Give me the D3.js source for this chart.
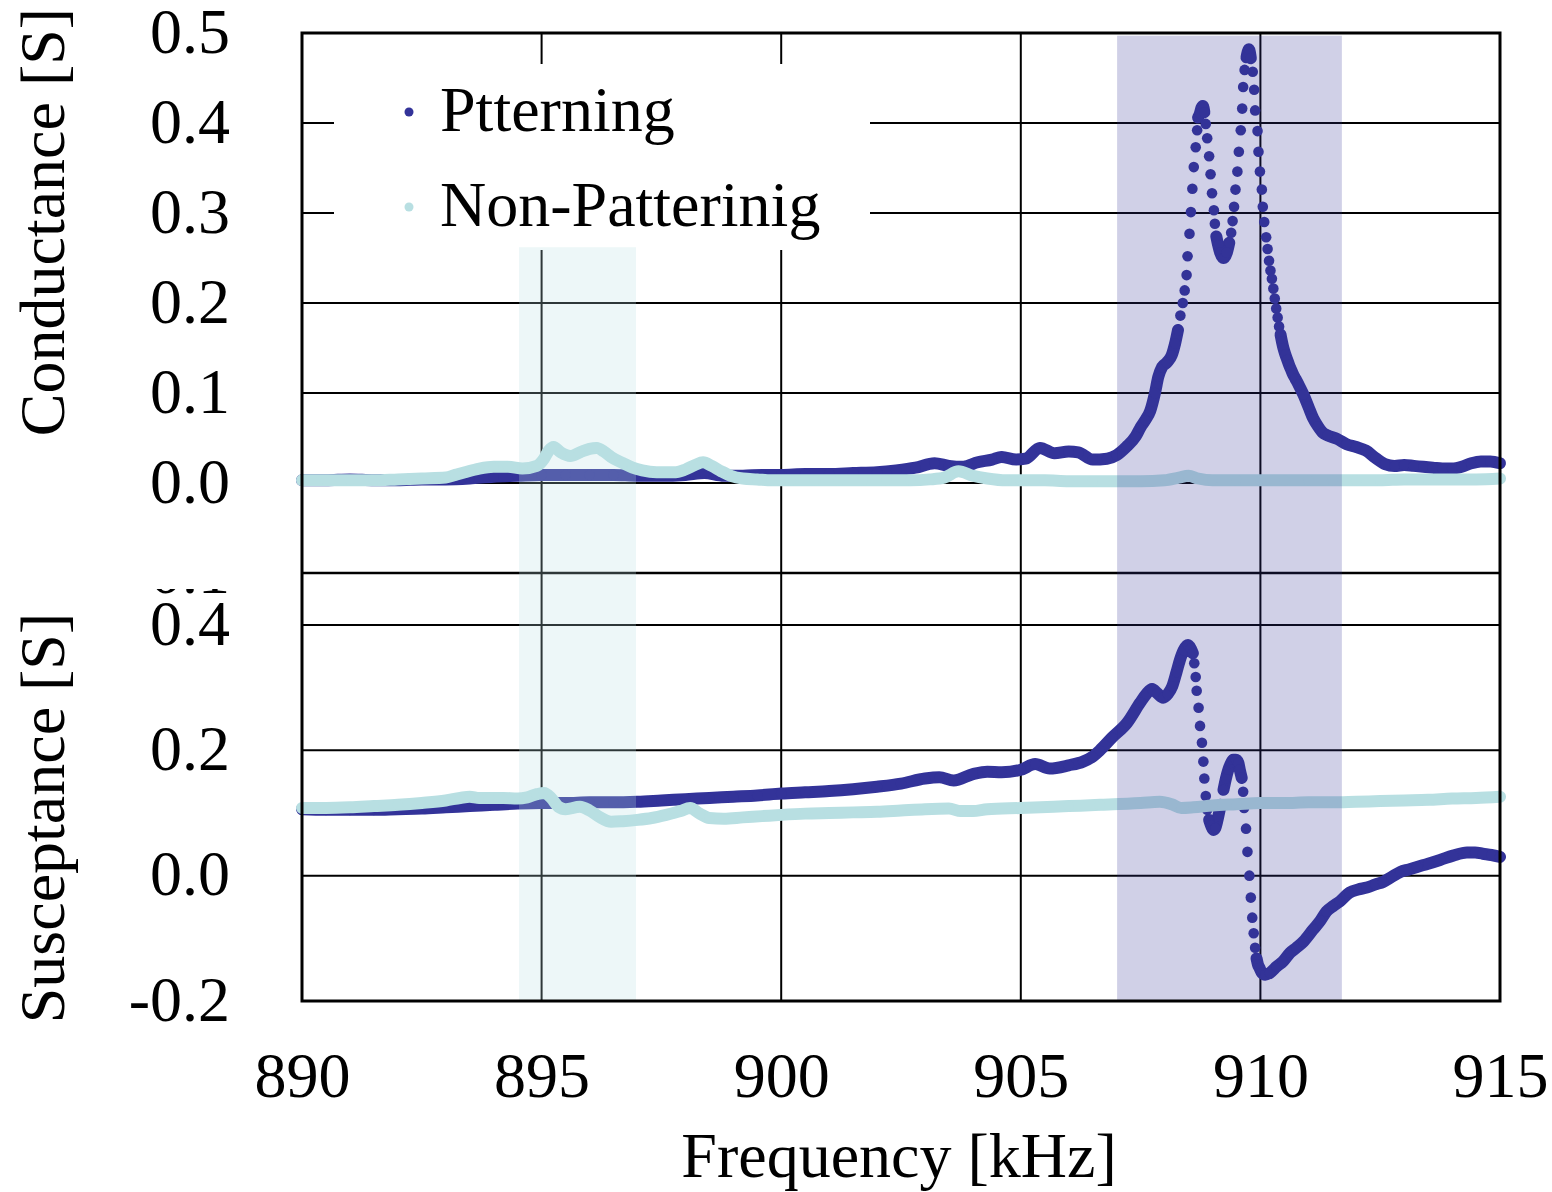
<!DOCTYPE html>
<html>
<head>
<meta charset="utf-8">
<script src="https://cdn.jsdelivr.net/npm/d3@7"></script>
<style>
  body { margin: 0; background: #fff; }
  text { font-family: "Liberation Serif", "Times New Roman", serif; fill: #000; }
</style>
</head>
<body>
<div id="main"></div>
<script>
// frequency [kHz], value [S]
const condPatterning = [
  [890.0, 0.003], [890.5, 0.003], [891.0, 0.004], [891.5, 0.003], [892.0, 0.003], [892.5, 0.004],
  [893.0, 0.004], [893.5, 0.005], [894.0, 0.007], [894.5, 0.008], [895.0, 0.009], [895.5, 0.009],
  [896.0, 0.009], [896.5, 0.009], [897.0, 0.008], [897.5, 0.008], [898.0, 0.009], [898.4, 0.011],
  [898.8, 0.008], [899.2, 0.008], [899.6, 0.009], [900.0, 0.009], [900.5, 0.010], [901.0, 0.010],
  [901.5, 0.011], [902.0, 0.012], [902.4, 0.014], [902.8, 0.017], [903.2, 0.022], [903.5, 0.019],
  [903.8, 0.018], [904.1, 0.023], [904.4, 0.026], [904.6, 0.029], [904.9, 0.026], [905.1, 0.027],
  [905.4, 0.039], [905.7, 0.033], [906.0, 0.035], [906.2, 0.034], [906.5, 0.026], [906.8, 0.027],
  [907.0, 0.031], [907.2, 0.040], [907.4, 0.052], [907.5, 0.062], [907.6, 0.070], [907.7, 0.080],
  [907.8, 0.100], [907.87, 0.118], [907.95, 0.129], [908.05, 0.134], [908.15, 0.142], [908.22, 0.155],
  [908.28, 0.170], [908.33, 0.186], [908.38, 0.200], [908.42, 0.214],
  [908.46, 0.231], [908.48, 0.252], [908.52, 0.277], [908.55, 0.301], [908.58, 0.327], [908.61, 0.351],
  [908.65, 0.373], [908.68, 0.392], [908.70, 0.406], [908.74, 0.411], [908.77, 0.417], [908.80, 0.419],
  [908.83, 0.412], [908.86, 0.399], [908.89, 0.383], [908.93, 0.363], [908.96, 0.343], [908.99, 0.322],
  [909.03, 0.303], [909.05, 0.288], [909.08, 0.274], [909.12, 0.264], [909.16, 0.256], [909.23, 0.250],
  [909.30, 0.256], [909.35, 0.267], [909.39, 0.278], [909.42, 0.291], [909.45, 0.307], [909.48, 0.326],
  [909.52, 0.346], [909.55, 0.368], [909.59, 0.392], [909.62, 0.416], [909.64, 0.440], [909.67, 0.459],
  [909.71, 0.473], [909.76, 0.482], [909.80, 0.472], [909.84, 0.457], [909.87, 0.437], [909.89, 0.414],
  [909.94, 0.391], [909.96, 0.368], [909.99, 0.346], [910.03, 0.326], [910.05, 0.307], [910.08, 0.290],
  [910.12, 0.273], [910.15, 0.260], [910.18, 0.247], [910.21, 0.236], [910.24, 0.227], [910.27, 0.216],
  [910.30, 0.205], [910.33, 0.194], [910.36, 0.184], [910.39, 0.174], [910.42, 0.165], [910.45, 0.157],
  [910.48, 0.150], [910.52, 0.143], [910.56, 0.137], [910.60, 0.131], [910.64, 0.126], [910.68, 0.121],
  [910.73, 0.116], [910.80, 0.109], [910.90, 0.098], [911.0, 0.085], [911.1, 0.072], [911.2, 0.063],
  [911.3, 0.056], [911.4, 0.053], [911.6, 0.049], [911.8, 0.043], [912.0, 0.040], [912.2, 0.036],
  [912.4, 0.028], [912.6, 0.021], [912.8, 0.019], [913.0, 0.020], [913.2, 0.019], [913.4, 0.018],
  [913.6, 0.017], [913.8, 0.016], [914.0, 0.016], [914.2, 0.018], [914.4, 0.022], [914.6, 0.024],
  [914.8, 0.024], [915.0, 0.022]
];

const condNonPatterning = [
  [890.0, 0.003], [890.5, 0.003], [891.0, 0.003], [891.5, 0.003], [892.0, 0.004], [892.5, 0.005],
  [893.0, 0.006], [893.2, 0.009], [893.4, 0.012], [893.7, 0.016], [894.0, 0.018], [894.3, 0.018],
  [894.6, 0.016], [894.9, 0.019], [895.05, 0.027], [895.15, 0.036], [895.25, 0.040], [895.4, 0.034],
  [895.6, 0.030], [895.8, 0.034], [896.0, 0.038], [896.15, 0.039], [896.3, 0.035], [896.45, 0.029],
  [896.7, 0.022], [896.9, 0.017], [897.1, 0.014], [897.4, 0.012], [897.8, 0.012], [898.0, 0.015],
  [898.2, 0.020], [898.37, 0.023], [898.55, 0.019], [898.75, 0.013], [898.95, 0.008], [899.2, 0.005],
  [899.5, 0.004], [899.8, 0.003], [900.2, 0.003], [900.7, 0.003], [901.2, 0.003], [901.7, 0.003],
  [902.2, 0.003], [902.7, 0.003], [903.1, 0.004], [903.4, 0.006], [903.7, 0.013], [904.0, 0.008],
  [904.3, 0.005], [904.7, 0.003], [905.0, 0.003], [905.5, 0.003], [906.0, 0.002], [906.5, 0.002],
  [907.0, 0.002], [907.5, 0.002], [908.0, 0.003], [908.3, 0.006], [908.5, 0.008], [908.7, 0.005],
  [909.0, 0.003], [909.5, 0.003], [910.0, 0.003], [910.5, 0.003], [911.0, 0.003], [911.5, 0.003],
  [912.0, 0.003], [912.5, 0.003], [913.0, 0.004], [913.5, 0.004], [914.0, 0.004], [914.5, 0.004],
  [915.0, 0.005]
];

const suscPatterning = [
  [890.0, 0.106], [890.5, 0.105], [891.0, 0.105], [891.5, 0.105], [892.0, 0.106], [892.5, 0.107],
  [893.0, 0.109], [893.5, 0.111], [894.0, 0.113], [894.5, 0.115], [895.0, 0.116], [895.5, 0.116],
  [896.0, 0.117], [896.5, 0.117], [897.0, 0.118], [897.5, 0.120], [898.0, 0.122], [898.5, 0.124],
  [899.0, 0.126], [899.5, 0.128], [900.0, 0.131], [900.5, 0.133], [901.0, 0.135], [901.5, 0.138],
  [902.0, 0.142], [902.5, 0.147], [903.0, 0.155], [903.3, 0.157], [903.6, 0.152], [904.0, 0.162],
  [904.3, 0.166], [904.6, 0.165], [905.0, 0.169], [905.3, 0.178], [905.6, 0.171], [906.0, 0.176],
  [906.3, 0.182], [906.5, 0.190], [906.65, 0.200], [906.9, 0.220], [907.22, 0.244], [907.49, 0.276],
  [907.62, 0.290], [907.74, 0.298], [907.85, 0.291], [907.97, 0.284], [908.07, 0.290], [908.16, 0.302],
  [908.25, 0.325], [908.32, 0.344], [908.40, 0.360], [908.49, 0.368], [908.55, 0.362], [908.59, 0.355],
  [908.62, 0.339], [908.65, 0.317], [908.67, 0.295], [908.71, 0.268], [908.74, 0.239], [908.78, 0.212],
  [908.81, 0.182], [908.83, 0.155], [908.86, 0.127], [908.89, 0.105], [908.93, 0.089], [908.97, 0.080],
  [909.02, 0.073], [909.06, 0.076], [909.12, 0.094], [909.17, 0.113], [909.23, 0.137], [909.28, 0.155],
  [909.33, 0.169], [909.39, 0.180], [909.43, 0.185], [909.49, 0.185], [909.54, 0.180], [909.57, 0.169],
  [909.61, 0.156], [909.64, 0.134], [909.66, 0.108], [909.70, 0.075], [909.73, 0.038], [909.77, 0.000],
  [909.80, -0.035], [909.83, -0.067], [909.86, -0.092], [909.89, -0.115], [909.92, -0.132], [909.95, -0.142],
  [909.98, -0.147], [910.03, -0.155], [910.10, -0.158], [910.20, -0.155], [910.34, -0.145], [910.47, -0.137],
  [910.62, -0.123], [910.75, -0.115], [910.90, -0.105], [911.10, -0.086], [911.25, -0.072], [911.38, -0.057],
  [911.51, -0.049], [911.66, -0.041], [911.86, -0.027], [912.04, -0.022], [912.22, -0.019], [912.40, -0.014],
  [912.56, -0.010], [912.74, -0.002], [912.92, 0.006], [913.10, 0.010], [913.27, 0.014], [913.50, 0.019],
  [913.75, 0.025], [914.02, 0.032], [914.31, 0.037], [914.48, 0.037], [914.64, 0.035], [914.82, 0.033],
  [915.0, 0.030]
];

const suscNonPatterning = [
  [890.0, 0.108], [890.5, 0.108], [891.0, 0.109], [891.5, 0.111], [892.0, 0.113], [892.5, 0.116],
  [893.0, 0.120], [893.3, 0.124], [893.5, 0.126], [893.7, 0.124], [893.9, 0.124], [894.2, 0.124],
  [894.5, 0.123], [894.7, 0.125], [894.9, 0.130], [895.05, 0.132], [895.2, 0.124], [895.35, 0.110],
  [895.5, 0.106], [895.8, 0.110], [896.0, 0.104], [896.2, 0.094], [896.45, 0.086], [896.7, 0.087],
  [897.0, 0.089], [897.3, 0.092], [897.6, 0.097], [897.9, 0.103], [898.1, 0.108], [898.3, 0.099],
  [898.5, 0.092], [898.8, 0.091], [899.2, 0.093], [899.6, 0.095], [900.0, 0.097], [900.5, 0.099],
  [901.0, 0.100], [901.5, 0.101], [902.0, 0.102], [902.5, 0.104], [903.0, 0.106], [903.5, 0.107],
  [903.75, 0.103], [904.0, 0.103], [904.3, 0.106], [905.0, 0.108], [906.0, 0.111], [906.65, 0.113],
  [907.5, 0.116], [907.9, 0.118], [908.15, 0.114], [908.35, 0.108], [908.6, 0.109], [909.0, 0.112],
  [909.5, 0.114], [910.0, 0.116], [910.5, 0.116], [911.0, 0.117], [911.5, 0.117], [912.0, 0.118],
  [912.5, 0.119], [913.0, 0.120], [913.5, 0.121], [914.0, 0.123], [914.5, 0.124], [915.0, 0.126]
];

// highlighted frequency bands: [from, to, top of band in conductance units]
const bands = [[894.53, 896.97, 0.262], [907.01, 911.70, 0.497]];
const bandColors = ["#b8dfe2", "#333399"];

const xTicks = [890, 895, 900, 905, 910, 915];
const condTicks = [-0.1, 0.0, 0.1, 0.2, 0.3, 0.4, 0.5];
const suscTicks = [-0.2, 0.0, 0.2, 0.4];
const seriesNames = ["Ptterning", "Non-Patterinig"];
const seriesColors = ["#333399", "#b8dfe2"];

let width = 1552,
    height = 1192

const svg = d3.select("div#main")
    .append("svg")
    .attr("width", width)
    .attr("height", height)

svg.append("rect").attr("width", width).attr("height", height).attr("fill", "#fff")

const x = d3.scaleLinear().domain([890, 915]).range([302, 1500])
const yG = d3.scaleLinear().domain([-0.1, 0.5]).range([573, 33])
const yB = d3.scaleLinear().domain([-0.2, 0.4]).range([1001, 625])

const fontSize = 64

// grid
const grid = svg.append("g")
grid.selectAll(".vgrid")
    .data(xTicks.slice(1, -1))
    .join("line")
    .attr("x1", d => x(d)).attr("x2", d => x(d))
    .attr("y1", yG(0.5)).attr("y2", yB(-0.2))
    .attr("stroke", "#000").attr("stroke-width", 2)
grid.selectAll(".hgridG")
    .data(condTicks.filter(d => d < 0.5))
    .join("line")
    .attr("x1", x(890)).attr("x2", x(915))
    .attr("y1", d => yG(d)).attr("y2", d => yG(d))
    .attr("stroke", "#000").attr("stroke-width", d => d == -0.1 ? 2.5 : 2)
grid.selectAll(".hgridB")
    .data(suscTicks.filter(d => d > -0.2))
    .join("line")
    .attr("x1", x(890)).attr("x2", x(915))
    .attr("y1", d => yB(d)).attr("y2", d => yB(d))
    .attr("stroke", "#000").attr("stroke-width", 2)

// legend box (white, hides the grid behind it)
const legend = svg.append("g")
legend.append("rect")
    .attr("x", 334).attr("y", 64).attr("width", 536).attr("height", 186)
    .attr("fill", "#fff")

function drawSeries(data, y, color) {
    const pts = data.map(d => [x(d[0]), y(d[1])])
    // samples on gentle slopes overlap into a solid trace, steep ones stay as dots
    let runs = [[pts[0]]]
    for (let i = 1; i < pts.length; i++) {
        const dx = Math.abs(pts[i][0] - pts[i - 1][0])
        const dy = Math.abs(pts[i][1] - pts[i - 1][1])
        if (dy <= 5 * dx || Math.hypot(dx, dy) <= 8) runs[runs.length - 1].push(pts[i])
        else runs.push([pts[i]])
    }
    const g = svg.append("g")
    g.selectAll("path")
        .data(runs.filter(r => r.length > 1))
        .join("path")
        .attr("d", d3.line().curve(d3.curveMonotoneX))
        .attr("fill", "none")
        .attr("stroke", color)
        .attr("stroke-width", 12)
        .attr("stroke-linecap", "round")
        .attr("stroke-linejoin", "round")
    g.selectAll("circle")
        .data(pts)
        .join("circle")
        .attr("cx", d => d[0]).attr("cy", d => d[1])
        .attr("r", 5.3)
        .attr("fill", color)
}

drawSeries(condPatterning, yG, seriesColors[0])
drawSeries(suscPatterning, yB, seriesColors[0])
drawSeries(condNonPatterning, yG, seriesColors[1])
drawSeries(suscNonPatterning, yB, seriesColors[1])

// shaded bands on top of the traces
svg.selectAll(".band")
    .data(bands)
    .join("rect")
    .attr("x", d => x(d[0]))
    .attr("width", d => x(d[1]) - x(d[0]))
    .attr("y", d => yG(d[2]))
    .attr("height", d => yB(-0.2) - yG(d[2]))
    .attr("fill", (d, i) => bandColors[i])
    .attr("fill-opacity", (d, i) => i == 0 ? 0.25 : 0.23)

// frame
svg.append("rect")
    .attr("x", x(890)).attr("y", yG(0.5))
    .attr("width", x(915) - x(890)).attr("height", yB(-0.2) - yG(0.5))
    .attr("fill", "none").attr("stroke", "#000").attr("stroke-width", 3)

// legend entries
seriesNames.forEach((name, i) => {
    const cy = 112 + i * 95
    legend.append("circle").attr("cx", 409).attr("cy", cy).attr("r", 4.5).attr("fill", seriesColors[i])
    legend.append("text")
        .attr("x", 440).attr("y", cy + 19)
        .attr("font-size", fontSize)
        .text(name)
})

// axes
const fmt = d => d.toFixed(1)
const axG = svg.append("g")
    .attr("transform", `translate(${x(890)},0)`)
    .call(d3.axisLeft(yG).tickValues(condTicks).tickFormat(fmt).tickSize(0).tickPadding(72))
const axB = svg.append("g")
    .attr("transform", `translate(${x(890)},0)`)
    .call(d3.axisLeft(yB).tickValues(suscTicks).tickFormat(fmt).tickSize(0).tickPadding(72))
const axX = svg.append("g")
    .attr("transform", `translate(0,${yB(-0.2)})`)
    .call(d3.axisBottom(x).tickValues(xTicks).tickFormat(d3.format("d")).tickSize(0).tickPadding(51))

for (const ax of [axG, axB, axX]) {
    ax.select(".domain").remove()
    ax.selectAll("text")
        .attr("font-size", fontSize)
        .attr("font-family", "Liberation Serif, Times New Roman, serif")
        .attr("fill", "#000")
}
axG.selectAll("text").attr("dy", "0.3em")
axB.selectAll("text").attr("dy", "0.3em")
axX.selectAll("text").attr("dy", "0.71em")

// the lower panel sits over the bottom of the upper panel's "-0.1" label
svg.append("rect")
    .attr("x", 100).attr("y", 530).attr("width", 195).attr("height", 59)
    .attr("fill", "#fff")

// axis titles
svg.append("text")
    .attr("x", 899).attr("y", 1177)
    .attr("text-anchor", "middle")
    .attr("font-size", fontSize)
    .text("Frequency [kHz]")
svg.append("text")
    .attr("transform", "translate(64,222) rotate(-90)")
    .attr("text-anchor", "middle")
    .attr("font-size", fontSize)
    .text("Conductance [S]")
svg.append("text")
    .attr("transform", "translate(64,818) rotate(-90)")
    .attr("text-anchor", "middle")
    .attr("font-size", fontSize)
    .text("Susceptance [S]")
</script>
</body>
</html>
